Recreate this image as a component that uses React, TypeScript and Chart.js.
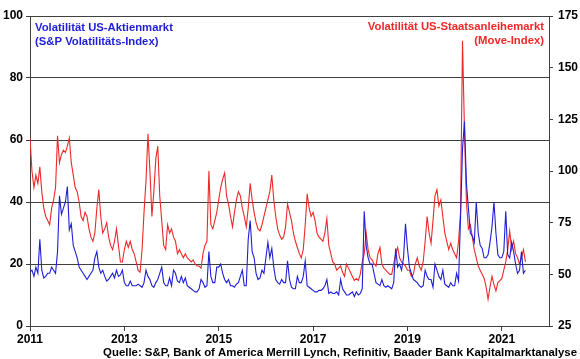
import React, { useEffect, useRef } from "react";
import { Chart, registerables } from "chart.js";

Chart.register(...registerables);

// Half-monthly observations starting January 2011
const START_YEAR = 2011;
const PERIODS_PER_YEAR = 24;

const vix2011 = [17.5, 18, 16, 19, 17, 28, 18, 15.5, 16, 17, 17, 19, 18, 17, 24, 42, 36, 38, 40, 45, 31, 33, 26, 24];
const vix2012 = [22, 19, 18, 17, 16, 15, 16, 17, 18, 22, 24, 19, 17, 18, 16, 14.5, 15, 16, 17, 15.5, 18, 16, 16.5, 18];
const vix2013 = [14, 13, 13, 14.5, 13, 13, 13, 13.5, 13, 12.5, 14, 18, 16, 15, 13, 12.5, 14, 15, 17, 19, 14, 13, 13, 15.5];
const vix2014 = [13, 18, 17, 14.5, 14, 16, 14, 15.5, 13, 12.5, 12, 11.5, 11, 11, 12, 15, 14, 12.5, 13, 24, 16, 14, 14, 19];
const vix2015 = [19, 20, 17, 15, 14, 15, 13, 13, 12.5, 13.5, 14, 16, 18, 13, 13, 28, 34, 24, 22, 17, 15, 15.5, 18, 17];
const vix2016 = [22, 27, 22, 25, 19, 15, 14, 13.5, 15, 14, 14, 21, 15, 12.5, 12, 12, 16, 14, 14, 16, 21, 13, 12.5, 12];
const vix2017 = [11.5, 11, 11, 11.5, 11.5, 12, 13, 15, 10.5, 11, 10.5, 10.5, 11, 10, 15, 12, 11, 10, 10, 10.5, 11, 9.5, 11, 10];
const vix2018 = [10.5, 12, 37, 26, 22, 20, 20, 17, 14, 13.5, 13, 15, 13, 12.5, 13, 12.5, 12, 14, 25, 19, 20, 18, 22, 33];
const vix2019 = [25, 19, 17, 15, 14.5, 14, 13, 12.5, 13, 18, 16, 15, 15, 12.5, 20, 18, 16, 15, 18, 13.5, 13, 12.5, 14, 13];
const vix2020 = [13, 17, 14.5, 35, 57, 66, 46, 38, 30, 29, 27, 40, 30, 26, 25, 22, 22, 23, 27, 32, 40, 30, 23, 22];
const vix2021 = [22, 24, 37, 23, 22, 27, 24, 20, 17, 18, 24, 17, 18];

const move2011 = [116, 100, 92, 98, 94, 102, 90, 82, 78, 76, 74, 82, 86, 92, 117, 104, 108, 110, 109, 112, 116, 104, 98, 92];
const move2012 = [90, 85, 78, 76, 80, 78, 72, 68, 66, 70, 82, 91, 78, 70, 72, 75, 68, 64, 62, 66, 72, 64, 56, 56];
const move2013 = [62, 66, 63, 66, 62, 60, 56, 52, 51, 62, 80, 95, 118, 100, 78, 90, 106, 112, 88, 76, 64, 62, 74, 70];
const move2014 = [72, 68, 66, 60, 62, 60, 58, 60, 58, 57, 56, 57, 55, 54, 54, 53, 60, 64, 66, 100, 74, 72, 76, 80];
const move2015 = [86, 92, 96, 99, 88, 84, 78, 73, 80, 86, 90, 88, 82, 78, 73, 82, 94, 86, 80, 75, 72, 71, 74, 78];
const move2016 = [82, 86, 90, 98, 86, 78, 72, 69, 67, 68, 73, 84, 80, 76, 70, 66, 63, 60, 58, 62, 74, 89, 82, 78];
const move2017 = [80, 76, 70, 68, 67, 66, 70, 77, 64, 60, 56, 55, 52, 53, 54, 51, 49, 55, 53, 51, 49, 47, 48, 47];
const move2018 = [50, 56, 60, 70, 62, 58, 57, 55, 54, 60, 63, 55, 53, 52, 51, 50, 50, 55, 60, 63, 58, 56, 55, 54];
const move2019 = [52, 52, 49, 50, 55, 58, 54, 52, 56, 66, 78, 70, 65, 76, 88, 91, 83, 86, 78, 70, 66, 62, 65, 62];
const move2020 = [60, 58, 66, 80, 163, 120, 85, 72, 74, 68, 62, 58, 54, 52, 50, 48, 44, 38, 44, 49, 45, 42, 46, 47];
const move2021 = [48, 52, 56, 62, 71, 62, 66, 60, 58, 55, 58, 62, 56];

const vixValues = [
  ...vix2011, ...vix2012, ...vix2013, ...vix2014, ...vix2015, ...vix2016,
  ...vix2017, ...vix2018, ...vix2019, ...vix2020, ...vix2021,
];
const moveValues = [
  ...move2011, ...move2012, ...move2013, ...move2014, ...move2015, ...move2016,
  ...move2017, ...move2018, ...move2019, ...move2020, ...move2021,
];

const xTickYears = [2011, 2013, 2015, 2017, 2019, 2021];
const X_MIN = 2011;
const X_MAX = 2022;
const leftTicks = [0, 20, 40, 60, 80, 100];
const rightTicks = [25, 50, 75, 100, 125, 150, 175];

const titleLeft = ["Volatilität US-Aktienmarkt", "(S&P Volatilitäts-Index)"];
const titleRight = ["Volatilität US-Staatsanleihemarkt", "(Move-Index)"];
const sourceText =
  "Quelle: S&P, Bank of America Merrill Lynch, Refinitiv, Baader Bank Kapitalmarktanalyse";

const BLUE = "rgb(30, 30, 215)";
const RED = "rgb(238, 40, 40)";
const AXIS = "#404040";
const FONT = "'Liberation Sans', Arial, sans-serif";

const textPlugin = {
  id: "texts",
  afterDraw(chart: any) {
    const { ctx, chartArea } = chart;
    ctx.save();
    ctx.font = `bold 11.3px ${FONT}`;
    ctx.textBaseline = "middle";
    ctx.fillStyle = BLUE;
    ctx.textAlign = "left";
    titleLeft.forEach((t, i) => ctx.fillText(t, chartArea.left + 5, chartArea.top + 12 + i * 14));
    ctx.fillStyle = RED;
    ctx.textAlign = "right";
    titleRight.forEach((t, i) => ctx.fillText(t, chartArea.right - 5, chartArea.top + 11 + i * 14));
    ctx.fillStyle = "#000";
    ctx.textAlign = "right";
    ctx.font = `bold 11.4px ${FONT}`;
    ctx.fillText(sourceText, 577, 353);
    ctx.restore();
  },
};

export default function App() {
  const ref = useRef<HTMLCanvasElement | null>(null);

  useEffect(() => {
    if (!ref.current) return;
    const toPoints = (arr: number[]) =>
      arr.map((v, i) => ({ x: START_YEAR + i / PERIODS_PER_YEAR, y: v }));
    const tickFont = { family: FONT, size: 12, weight: "bold" as const };

    const chart = new Chart(ref.current, {
      type: "line",
      data: {
        datasets: [
          {
            label: "VIX",
            data: toPoints(vixValues),
            borderColor: BLUE,
            borderWidth: 1.1,
            pointRadius: 0,
            yAxisID: "y",
            order: 0,
          },
          {
            label: "MOVE",
            data: toPoints(moveValues),
            borderColor: RED,
            borderWidth: 1.1,
            pointRadius: 0,
            yAxisID: "y1",
            order: 1,
          },
        ],
      },
      options: {
        animation: false,
        responsive: true,
        maintainAspectRatio: false,
        layout: { padding: { top: 16, left: 0, right: 0, bottom: 0 } },
        plugins: { legend: { display: false }, tooltip: { enabled: false } },
        scales: {
          x: {
            type: "linear",
            min: X_MIN,
            max: X_MAX,
            afterBuildTicks: (s: any) => {
              s.ticks = xTickYears.map((v) => ({ value: v }));
            },
            ticks: {
              callback: (v: any) => String(v),
              font: tickFont,
              color: "#000",
              padding: 1,
              maxRotation: 0,
              autoSkip: false,
            },
            grid: { drawOnChartArea: false, tickLength: 5, color: AXIS },
            border: { color: AXIS },
            afterFit: (s: any) => {
              s.height = 33;
            },
          },
          y: {
            position: "left",
            min: 0,
            max: 100,
            afterBuildTicks: (s: any) => {
              s.ticks = leftTicks.map((v) => ({ value: v }));
            },
            ticks: { font: tickFont, color: "#000", padding: 3 },
            grid: { color: AXIS, tickLength: 4 },
            border: { color: AXIS },
            afterFit: (s: any) => {
              s.width = 30;
            },
          },
          y1: {
            position: "right",
            min: 25,
            max: 175,
            afterBuildTicks: (s: any) => {
              s.ticks = rightTicks.map((v) => ({ value: v }));
            },
            ticks: { font: tickFont, color: "#000", padding: 5 },
            grid: { drawOnChartArea: false, tickLength: 4, color: AXIS },
            border: { color: AXIS },
            afterFit: (s: any) => {
              s.width = 31;
            },
          },
        },
      },
      plugins: [textPlugin],
    });
    return () => chart.destroy();
  }, []);

  return (
    <div style={{ position: "fixed", left: 0, top: 0, width: 580, height: 359, background: "#fff" }}>
      <canvas ref={ref} />
    </div>
  );
}
